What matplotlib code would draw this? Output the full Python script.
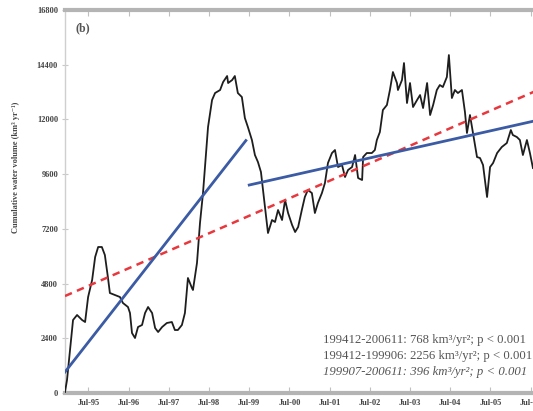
import numpy as np
import matplotlib
matplotlib.use('Agg')
import matplotlib.pyplot as plt

# months since Dec 1994 and the running series value
t = [0.0, 0.6, 2.4, 3.6, 5.1, 6.0, 6.9, 8.1, 9.0, 9.9,
     11.0, 11.9, 12.8, 13.4, 14.9, 16.4, 17.3, 18.8, 19.4, 20.0,
     20.9, 21.8, 23.0, 23.9, 24.8, 26.0, 26.9, 27.8, 29.0, 30.4,
     31.9, 32.8, 33.7, 34.9, 35.8, 36.7, 37.9, 38.2, 39.4, 40.3,
     41.2, 42.7, 43.9, 44.8, 46.3, 47.2, 48.4, 48.7, 49.9, 50.7,
     51.6, 52.8, 53.7, 54.6, 55.8, 56.7, 57.6, 58.5, 59.1, 59.7,
     60.6, 61.8, 62.7, 63.6, 64.8, 65.7, 66.6, 67.8, 68.7, 69.6,
     70.7, 71.6, 72.5, 73.7, 74.6, 75.5, 76.7, 77.6, 78.5, 79.7,
     80.6, 81.5, 82.7, 83.6, 84.5, 85.7, 86.6, 87.5, 88.7, 89.0,
     90.1, 91.6, 92.5, 93.1, 94.0, 94.9, 96.1, 97.0, 97.9, 99.1,
     99.4, 100.6, 101.2, 102.1, 103.0, 103.9, 105.1, 106.0, 106.9, 108.1,
     109.0, 109.9, 111.0, 111.9, 112.8, 114.0, 114.6, 115.5, 116.4, 117.3,
     118.5, 119.4, 120.0, 120.9, 121.8, 123.0, 123.9, 124.8, 126.0, 126.9,
     127.8, 129.0, 130.4, 131.9, 133.1, 133.7, 134.9, 135.8, 136.7, 137.9,
     138.8, 139.7]
v = [44, 570, 3202, 3421, 3202, 3114, 4211, 4956, 5965, 6404,
     6404, 6053, 5088, 4386, 4298, 4211, 3947, 3772, 3509, 2632,
     2412, 2895, 2983, 3509, 3772, 3509, 2851, 2675, 2895, 3070,
     3114, 2763, 2763, 2983, 3509, 5044, 4605, 4518, 5702, 7456,
     8772, 11667, 12851, 13158, 13290, 13640, 13904, 13597, 13728, 13904,
     13158, 12983, 12062, 11667, 11097, 10439, 10132, 9693, 8904, 8158,
     7018, 7588, 7500, 8026, 7588, 8465, 7895, 7368, 7061, 7281,
     8026, 8597, 8904, 8772, 7895, 8333, 8772, 9211, 10088, 10526,
     10658, 9912, 10000, 9474, 9781, 9912, 10439, 9430, 9342, 10351,
     10526, 10526, 10658, 11097, 11447, 12412, 12632, 13290, 14079, 13597,
     13290, 13728, 14474, 12719, 13597, 12544, 12851, 13070, 12500, 13597,
     12193, 12632, 13290, 13509, 13421, 13860, 14825, 12939, 13290, 13158,
     13290, 12325, 11404, 12193, 11404, 10351, 10307, 10000, 8597, 9912,
     10088, 10526, 10790, 10965, 11535, 11316, 11228, 11097, 10439, 11097,
     10526, 9868]

# linear trends: (start month, end month, value at start, slope per year)
trend_all = (0, 143, 4254, 768)
trend_1 = (0, 54, 921, 2256)
trend_2 = (55, 143, 9123, 396)

trend_labels = ['199412-200611: 768 km³/yr²; p < 0.001',
                '199412-199906: 2256 km³/yr²; p < 0.001',
                '199907-200611: 396 km³/yr²; p < 0.001']

xtick_pos = [7, 19, 31, 43, 55, 67, 79, 91, 103, 115, 127, 139]
xtick_lab = ['Jul-95', 'Jul-96', 'Jul-97', 'Jul-98', 'Jul-99', 'Jul-00',
             'Jul-01', 'Jul-02', 'Jul-03', 'Jul-04', 'Jul-05', 'Jul-06']
ytick_pos = [0, 2400, 4800, 7200, 9600, 12000, 14400, 16800]

serif = ['Liberation Serif', 'DejaVu Serif']


def trend_line(tr):
    t0, t1, y0, slope = tr
    x = np.array([t0, t1], dtype=float)
    return x, y0 + slope / 12.0 * (x - t0)


fig = plt.figure(figsize=(5.33, 4.11), dpi=100)
ax = fig.add_axes([65 / 533, 18 / 411, 479 / 533, 383 / 411])

ax.plot(t, v, color='#1e1e1e', lw=1.3, zorder=3)

x, y = trend_line(trend_all)
ax.plot(x, y, color='#e8383d', lw=1.8, ls=(0, (3, 2.2)), zorder=4)
for tr in (trend_1, trend_2):
    x, y = trend_line(tr)
    ax.plot(x, y, color='#3b5ba5', lw=2.0, zorder=5)

ax.set_xlim(0, 143)
ax.set_ylim(0, 16800)
ax.set_xticks(xtick_pos)
ax.set_xticklabels(xtick_lab)
ax.set_yticks(ytick_pos)
ax.set_yticklabels([str(p) for p in ytick_pos])

for side in ('top', 'bottom'):
    ax.spines[side].set_color('#b4b4b4')
    ax.spines[side].set_linewidth(3)
ax.spines['left'].set_color('#cfcfcf')
ax.spines['left'].set_linewidth(1)
ax.spines['right'].set_visible(False)

ax.tick_params(axis='x', direction='in', length=4, color='#c0c0c0',
               top=True, labelsize=6, labelcolor='#444444', pad=4)
ax.tick_params(axis='y', direction='inout', length=4, color='#c8c8c8',
               labelsize=6, labelcolor='#444444', pad=3)
for lab in ax.get_xticklabels() + ax.get_yticklabels():
    lab.set_family(serif)
    lab.set_fontweight('bold')

ax.set_ylabel('Cumulative water volume (km³ yr⁻¹)', fontsize=6,
              color='#444444', fontweight='bold', family=serif)
ax.yaxis.set_label_coords(-0.094, 0.59)

ax.text(0.022, 0.953, '(b)', transform=ax.transAxes, fontsize=8.5,
        fontweight='bold', family=serif, color='#555555', va='center')

for i, lab in enumerate(trend_labels):
    fig.text(323 / 533, 1 - (340 + 16 * i) / 411, lab, fontsize=9.2,
             family=serif, color='#555555', va='center',
             style='italic' if i == 2 else 'normal')

fig.savefig('out.png', dpi=100)
